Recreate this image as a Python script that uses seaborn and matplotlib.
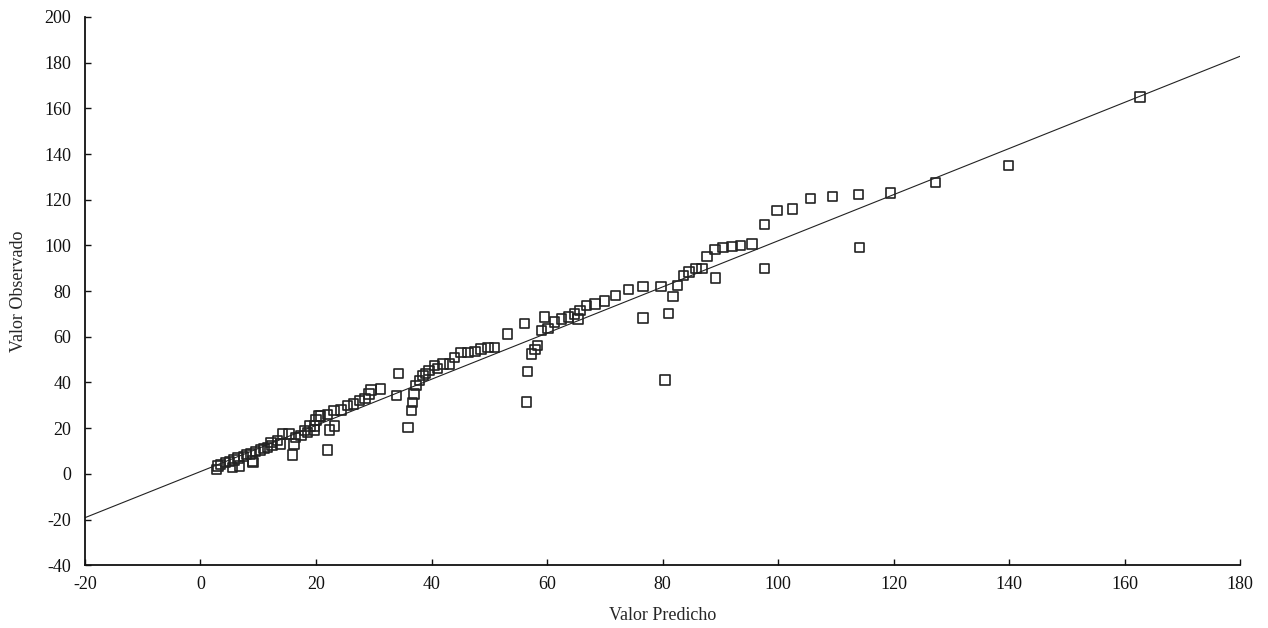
import matplotlib
matplotlib.use("Agg")
import matplotlib.pyplot as plt
import seaborn as sns
import numpy as np
import pandas as pd

valor_predicho = [
    2.8, 3.0, 3.5, 4.3, 5.5, 5.0, 5.8, 6.8, 6.5, 7.5, 8.0, 8.7, 9.1, 9.0, 9.5,
    10.4, 11.0, 11.6, 12.2, 12.4, 13.3, 13.9, 14.2, 15.3, 15.9, 16.2, 16.5, 17.4,
    18.0, 18.5, 19.0, 19.7, 19.7, 20.0, 20.5, 22.0, 22.3, 23.2,
    20.8, 22.0, 23.1, 24.3, 25.5, 26.5, 27.5, 28.5, 29.2, 29.5, 31.2,
    34.3, 33.9, 35.9, 36.5, 36.7, 37.0, 37.3, 37.9, 38.5, 39.0, 39.6, 40.5, 41.0,
    42.0, 43.1, 44.0, 45.1, 46.3, 47.5, 48.6, 49.8, 50.9,
    53.2, 56.1, 56.6, 56.4, 57.3, 57.9, 58.4, 59.0, 59.6, 60.2, 61.3, 62.5, 63.7,
    64.8, 65.4, 65.7, 66.8, 68.3, 70.0, 71.9, 74.1, 76.6, 76.6, 79.7, 80.4, 81.0,
    81.8, 82.6, 83.6, 84.6, 85.8, 86.8, 87.7, 89.2, 89.1, 90.5, 92.0, 93.5, 95.5,
    97.7, 97.7, 99.8, 102.5, 105.6, 109.4, 113.9, 114.1, 119.5, 127.3, 139.9, 162.7,
]
valor_observado = [
    2.0, 3.5, 4.2, 5.0, 2.8, 5.5, 6.0, 3.5, 7.0, 7.5, 8.5, 8.6, 5.0, 5.7, 9.8,
    10.4, 11.0, 11.5, 13.7, 12.3, 14.7, 13.0, 17.4, 17.4, 8.2, 13.0, 16.0, 16.7,
    19.0, 18.1, 21.0, 19.2, 21.0, 23.5, 25.4, 10.5, 19.2, 21.0,
    25.4, 26.0, 27.6, 28.0, 29.8, 30.5, 32.0, 33.0, 35.0, 36.7, 37.1,
    44.0, 34.2, 20.3, 27.6, 31.3, 35.0, 38.6, 40.8, 43.0, 44.0, 45.2, 47.4, 46.0,
    48.1, 48.1, 51.0, 53.2, 53.2, 53.6, 54.7, 55.4, 55.4,
    61.3, 65.9, 44.9, 31.5, 52.5, 54.3, 56.1, 62.7, 68.6, 63.5, 66.4, 67.8, 68.6,
    70.0, 67.8, 71.5, 73.7, 74.4, 75.6, 78.0, 80.7, 82.1, 68.3, 82.1, 41.1, 70.3,
    77.6, 82.5, 86.8, 88.3, 89.8, 89.8, 95.2, 85.8, 98.1, 99.0, 99.6, 100.0, 100.7,
    109.2, 89.8, 115.4, 116.0, 120.5, 121.5, 122.4, 99.0, 122.9, 127.5, 135.1, 165.0,
]

# Fitted line parameters
line_intercept = 1.0
line_slope = 1.01
line_x = [-20, 180]

x_ticks = [-20, 0, 20, 40, 60, 80, 100, 120, 140, 160, 180]
y_ticks = [-40, -20, 0, 20, 40, 60, 80, 100, 120, 140, 160, 180, 200]

sns.set_style("ticks")
plt.rcParams["font.family"] = ["Liberation Serif", "DejaVu Serif"]
plt.rcParams["axes.unicode_minus"] = False

df = pd.DataFrame({"Valor Predicho": valor_predicho, "Valor Observado": valor_observado})
line_df = pd.DataFrame({"x": line_x,
                        "y": [line_intercept + line_slope * v for v in line_x]})

fig = plt.figure(figsize=(12.68, 6.28), dpi=100)
ax = fig.add_axes([0.067, 0.100, 0.911, 0.873])

sns.lineplot(data=line_df, x="x", y="y", ax=ax, color="#222222", linewidth=0.8)
pts = sns.scatterplot(data=df, x="Valor Predicho", y="Valor Observado", ax=ax,
                      marker="s", s=46, facecolor="none", edgecolor="#222222",
                      linewidth=1.2, zorder=3)
for coll in ax.collections:
    coll.set_joinstyle("round")

ax.set_xlim(-20, 180)
ax.set_ylim(-40, 200)
ax.set_xticks(x_ticks)
ax.set_yticks(y_ticks)
ax.tick_params(direction="in", length=4, width=1, labelsize=13, colors="#111111")
ax.tick_params(axis="x", pad=8)
ax.tick_params(axis="y", pad=10)
for s in ["top", "right"]:
    ax.spines[s].set_visible(False)
for s in ["left", "bottom"]:
    ax.spines[s].set_linewidth(1.3)
    ax.spines[s].set_color("#111111")

ax.set_xlabel("Valor Predicho", fontsize=13, labelpad=10)
ax.set_ylabel("Valor Observado", fontsize=13, labelpad=12)

fig.savefig("out.png", dpi=100, facecolor="white")
